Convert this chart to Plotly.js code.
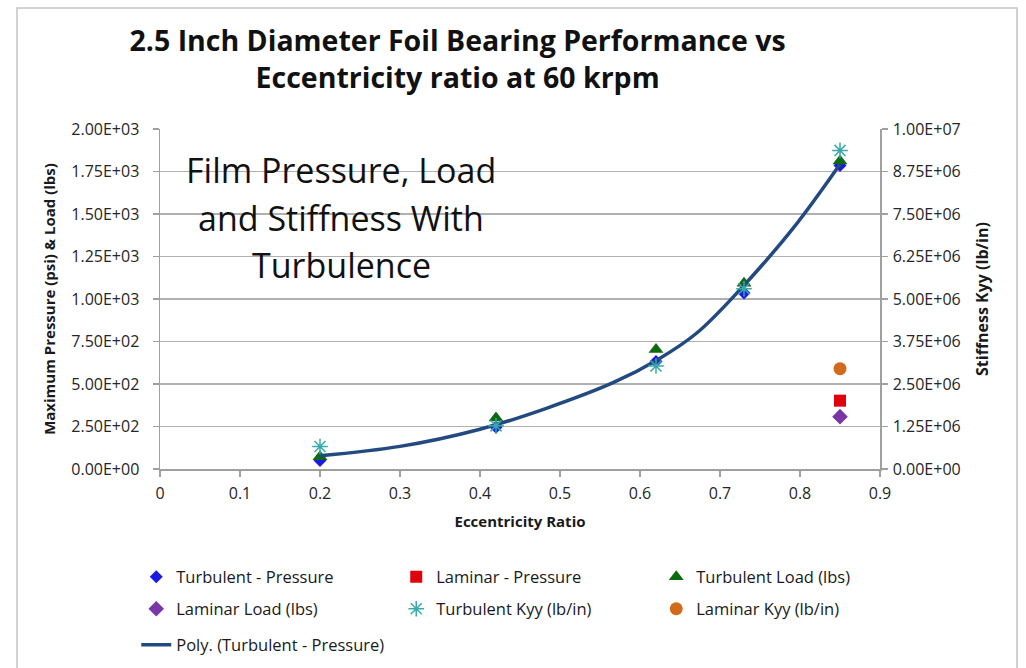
<!DOCTYPE html>
<html>
<head>
<meta charset="utf-8">
<script src="https://cdn.plot.ly/plotly-3.0.1.min.js"></script>
<style>html,body{margin:0;padding:0;background:#fff;}#chart{width:1026px;height:668px;}</style>
</head>
<body>
<div id="chart"></div>
<script>
// ---- data ----
var xTurb = [0.2, 0.42, 0.62, 0.73, 0.85];
var turbPressure = [50, 245, 632, 1036, 1785];
var turbLoad = [72, 300, 703, 1092, 1812];
var turbKyy = [660000, 1270000, 3030000, 5300000, 9370000];
var xLam = [0.85];
var lamPressure = [402];
var lamLoad = [308];
var lamKyy = [2950000];
var polyX = [0.2, 0.3, 0.4, 0.483, 0.567, 0.623, 0.671, 0.725, 0.792, 0.85];
var polyY = [78, 133, 234, 357, 509, 646, 800, 1055, 1420, 1793];
var xTickVals = [0, 0.1, 0.2, 0.3, 0.4, 0.5, 0.6, 0.7, 0.8, 0.9];
var xTickText = ['0','0.1','0.2','0.3','0.4','0.5','0.6','0.7','0.8','0.9'];
var leftTickVals = [0, 250, 500, 750, 1000, 1250, 1500, 1750, 2000];
var leftTickText = ["0.00E+00","2.50E+02","5.00E+02","7.50E+02","1.00E+03","1.25E+03","1.50E+03","1.75E+03","2.00E+03"];
var rightTickVals = [0, 1250000, 2500000, 3750000, 5000000, 6250000, 7500000, 8750000, 10000000];
var rightTickText = ["0.00E+00","1.25E+06","2.50E+06","3.75E+06","5.00E+06","6.25E+06","7.50E+06","8.75E+06","1.00E+07"];

var F = '"Open Sans", Lato, sans-serif';

var traces = [
  {x: xTurb, y: turbPressure, name: 'Turbulent - Pressure', type: 'scatter', mode: 'markers',
   marker: {symbol: 'diamond', size: 10, color: '#1a1ae6'}, legend: 'legend', legendrank: 1},
  {x: xLam, y: lamPressure, name: 'Laminar - Pressure', type: 'scatter', mode: 'markers',
   marker: {symbol: 'square', size: 12, color: '#e0000b'}, legend: 'legend', legendrank: 2},
  {x: xTurb, y: turbLoad, name: 'Turbulent Load (lbs)', type: 'scatter', mode: 'markers',
   marker: {symbol: 'triangle-up', size: 13, color: '#0c6a10'}, legend: 'legend', legendrank: 3},
  {x: xLam, y: lamLoad, name: 'Laminar Load (lbs)', type: 'scatter', mode: 'markers',
   marker: {symbol: 'diamond', size: 12, color: '#7a36a6'}, legend: 'legend2', legendrank: 4},
  {x: xTurb, y: turbKyy, name: 'Turbulent Kyy (lb/in)', type: 'scatter', mode: 'markers', yaxis: 'y2',
   marker: {symbol: 'asterisk-open', size: 13, color: '#3aa9a9', line: {color: '#3aa9a9', width: 1.5}}, legend: 'legend2', legendrank: 5},
  {x: xLam, y: lamKyy, name: 'Laminar Kyy (lb/in)', type: 'scatter', mode: 'markers', yaxis: 'y2',
   marker: {symbol: 'circle', size: 13, color: '#d2691b'}, legend: 'legend2', legendrank: 6},
  {x: polyX, y: polyY, name: 'Poly. (Turbulent - Pressure)', type: 'scatter', mode: 'lines',
   line: {color: '#234a80', width: 3.5, shape: 'spline'}, legend: 'legend3', legendrank: 7}
];

var legendBase = {orientation: 'h', xanchor: 'left', yanchor: 'middle', x: -0.033,
  font: {family: F, size: 16.5, color: '#1a1a1a'}, entrywidth: 215, entrywidthmode: 'pixels',
  bgcolor: 'rgba(0,0,0,0)', itemclick: false};

var axisCommon = {showline: true, linecolor: '#a0a0a0', linewidth: 1.5, zeroline: false,
  ticks: 'outside', ticklen: 6, tickcolor: '#a0a0a0', tickwidth: 1.5,
  tickfont: {family: F, size: 16, color: '#262626'}};

var layout = {
  width: 1026, height: 668,
  margin: {l: 160, r: 146, t: 129, b: 199, autoexpand: false},
  paper_bgcolor: '#ffffff', plot_bgcolor: '#ffffff',
  font: {family: F, color: '#1a1a1a'},
  title: {text: '<b>2.5 Inch Diameter Foil Bearing Performance vs<br>Eccentricity ratio at 60 krpm</b>',
    font: {family: F, size: 28.5, color: '#111'}, xref: 'container', yref: 'container',
    x: 0.446, xanchor: 'center', y: 0.924, yanchor: 'top'},
  showlegend: true,
  legend: Object.assign({}, legendBase, {y: -0.3176}),
  legend2: Object.assign({}, legendBase, {y: -0.4118}),
  legend3: Object.assign({}, legendBase, {y: -0.5176}),
  xaxis: Object.assign({}, axisCommon, {range: [0, 0.9], tickvals: xTickVals, ticktext: xTickText,
    showgrid: false, ticklabelstandoff: 3,
    title: {text: '<b>Eccentricity Ratio</b>', font: {family: F, size: 15, color: '#1a1a1a'}, standoff: 14}}),
  yaxis: Object.assign({}, axisCommon, {range: [0, 2000], tickvals: leftTickVals, ticktext: leftTickText,
    showgrid: true, gridcolor: '#b0b0b0', gridwidth: 1.5, ticklabelstandoff: 10,
    title: {text: '<b>Maximum Pressure (psi) & Load (lbs)</b>', font: {family: F, size: 15, color: '#1a1a1a'}, standoff: 12}}),
  yaxis2: Object.assign({}, axisCommon, {range: [0, 10000000], tickvals: rightTickVals, ticktext: rightTickText,
    overlaying: 'y', side: 'right', showgrid: false, ticklabelstandoff: 2,
    title: {text: '<b>Stiffness Kyy (lb/in)</b>', font: {family: F, size: 16, color: '#1a1a1a'}, standoff: 17}}),
  annotations: [
    {text: 'Film Pressure, Load', xref: 'paper', yref: 'paper', x: 0.2514, y: 0.879, xanchor: 'center', yanchor: 'middle', showarrow: false, font: {family: F, size: 34, color: '#111'}},
    {text: 'and Stiffness With', xref: 'paper', yref: 'paper', x: 0.2514, y: 0.738, xanchor: 'center', yanchor: 'middle', showarrow: false, font: {family: F, size: 34, color: '#111'}},
    {text: 'Turbulence', xref: 'paper', yref: 'paper', x: 0.2514, y: 0.600, xanchor: 'center', yanchor: 'middle', showarrow: false, font: {family: F, size: 34, color: '#111'}}
  ],
  shapes: [
    {type: 'rect', xref: 'paper', yref: 'paper', x0: -0.1986, x1: 1.1903, y0: -0.7, y1: 1.356,
     line: {color: '#c4c4c4', width: 1.5}, fillcolor: 'rgba(0,0,0,0)', layer: 'below'}
  ]
};

Plotly.newPlot('chart', traces, layout, {staticPlot: true, displayModeBar: false});
</script>
</body>
</html>
